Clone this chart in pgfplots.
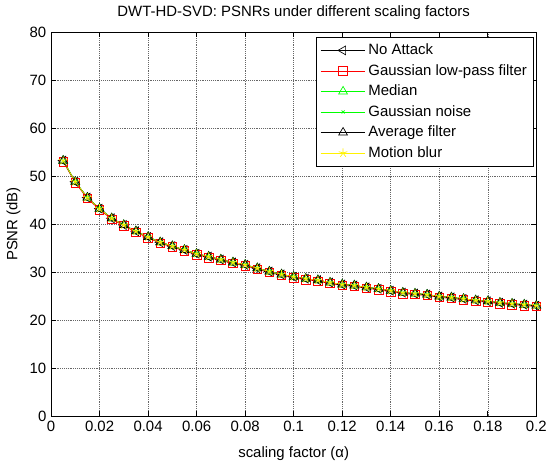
\documentclass[border=0pt]{standalone}
\usepackage{fontspec}
\setmainfont{Liberation Sans}
\usepackage{pgfplots}
\usepackage{pgfplotstable}
\pgfplotsset{compat=1.18}

% PSNR (dB) against the scaling factor, one column per attack
\pgfplotstableread{
a     noatt lpf  med  gn   avg  mb
0.005 53.2  53.0 53.2 53.2 53.2 53.2
0.010 48.8  48.6 48.8 48.8 48.8 48.8
0.015 45.5  45.3 45.5 45.5 45.5 45.5
0.020 43.2  43.0 43.2 43.2 43.2 43.2
0.025 41.2  41.0 41.2 41.2 41.2 41.2
0.030 39.8  39.6 39.8 39.8 39.8 39.8
0.035 38.5  38.3 38.5 38.5 38.5 38.5
0.040 37.3  37.1 37.3 37.3 37.3 37.3
0.045 36.2  36.0 36.2 36.2 36.2 36.2
0.050 35.4  35.2 35.4 35.4 35.4 35.4
0.055 34.6  34.4 34.6 34.6 34.6 34.6
0.060 33.8  33.6 33.8 33.8 33.8 33.8
0.065 33.2  33.0 33.2 33.2 33.2 33.2
0.070 32.6  32.4 32.6 32.6 32.6 32.6
0.075 32.0  31.8 32.0 32.0 32.0 32.0
0.080 31.5  31.3 31.5 31.5 31.5 31.5
0.085 30.8  30.6 30.8 30.8 30.8 30.8
0.090 30.1  29.9 30.1 30.1 30.1 30.1
0.095 29.5  29.3 29.5 29.5 29.5 29.5
0.100 29.0  28.8 29.0 29.0 29.0 29.0
0.105 28.6  28.4 28.6 28.6 28.6 28.6
0.110 28.3  28.1 28.3 28.3 28.3 28.3
0.115 27.8  27.6 27.8 27.8 27.8 27.8
0.120 27.4  27.2 27.4 27.4 27.4 27.4
0.125 27.2  27.0 27.2 27.2 27.2 27.2
0.130 26.8  26.6 26.8 26.8 26.8 26.8
0.135 26.5  26.3 26.5 26.5 26.5 26.5
0.140 26.1  25.9 26.1 26.1 26.1 26.1
0.145 25.7  25.5 25.7 25.7 25.7 25.7
0.150 25.5  25.3 25.5 25.5 25.5 25.5
0.155 25.3  25.1 25.3 25.3 25.3 25.3
0.160 24.9  24.7 24.9 24.9 24.9 24.9
0.165 24.7  24.5 24.7 24.7 24.7 24.7
0.170 24.4  24.2 24.4 24.4 24.4 24.4
0.175 24.1  23.9 24.1 24.1 24.1 24.1
0.180 23.9  23.7 23.9 23.9 23.9 23.9
0.185 23.6  23.4 23.6 23.6 23.6 23.6
0.190 23.4  23.2 23.4 23.4 23.4 23.4
0.195 23.2  23.0 23.2 23.2 23.2 23.2
0.200 23.0  22.8 23.0 23.0 23.0 23.0
}\psnr

\newcommand{\figfont}{\fontsize{11.2bp}{13bp}\selectfont}

\begin{document}
\begin{tikzpicture}
\useasboundingbox (-38.25bp,-34.5bp) rectangle (375.75bp,312bp);
\begin{axis}[
  at={(0,0)}, anchor=south west,
  width=364bp, height=288bp, scale only axis,
  xmin=0, xmax=0.2, ymin=0, ymax=80,
  xtick={0,0.02,0.04,0.06,0.08,0.1,0.12,0.14,0.16,0.18,0.2},
  ytick={0,10,20,30,40,50,60,70,80},
  scaled x ticks=false,
  xticklabel style={/pgf/number format/fixed, /pgf/number format/precision=2},
  /pgf/number format/assume math mode=true,
  tick align=inside, major tick length=4bp,
  tick style={black, line width=0.5bp},
  axis line style={line width=0.5bp},
  grid=major, grid style={densely dotted, black!60, line width=0.4bp},
  every tick label/.append style={font=\figfont},
  label style={font=\figfont},
  xlabel style={yshift=-5bp},
  title style={font=\figfont},
  title={DWT-HD-SVD: PSNRs under different scaling factors},
  xlabel={scaling factor (α)},
  ylabel={PSNR (dB)},
  legend style={at={(rel axis cs:0.995,0.987)}, anchor=north east,
    draw=black, line width=0.5bp, font=\figfont, row sep=1.8bp,
    inner xsep=3bp, inner ysep=3bp},
  legend cell align=left,
  legend image code/.code={\draw[mark repeat=2,mark phase=2]
    plot coordinates {(0bp,0bp) (16.75bp,0bp) (33.5bp,0bp)};},
  every axis plot/.append style={line width=0.5bp},
]
\addplot[black, mark=triangle, mark size=3.8bp, mark options={rotate=90}]
  table[x=a, y=noatt]{\psnr};
\addlegendentry{No Attack}
\addplot[red, mark=square, mark size=3.2bp] table[x=a, y=lpf]{\psnr};
\addlegendentry{Gaussian low-pass filter}
\addplot[green, mark=triangle, mark size=3.8bp] table[x=a, y=med]{\psnr};
\addlegendentry{Median}
\addplot[green, mark=x, mark size=1.6bp] table[x=a, y=gn]{\psnr};
\addlegendentry{Gaussian noise}
\addplot[black, mark=triangle, mark size=3.8bp] table[x=a, y=avg]{\psnr};
\addlegendentry{Average filter}
\addplot[yellow, mark=star, mark size=3.4bp] table[x=a, y=mb]{\psnr};
\addlegendentry{Motion blur}
\end{axis}
\end{tikzpicture}
\end{document}
